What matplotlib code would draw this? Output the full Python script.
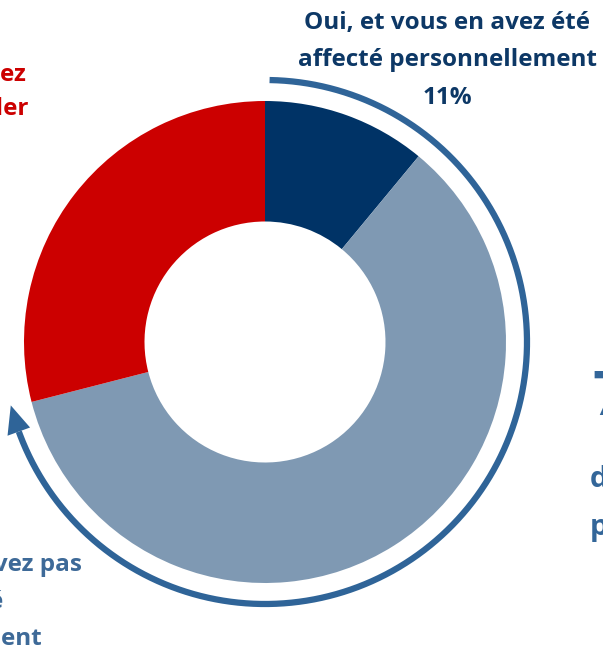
import numpy as np
import matplotlib
matplotlib.use("Agg")
import matplotlib.pyplot as plt
from matplotlib.patches import Polygon

plt.rcParams['font.family'] = ['Open Sans', 'DejaVu Sans']

# data
labels = ["Oui, et vous en avez été affecté personnellement",
          "Non, vous n'en avez pas été affecté personnellement",
          "Non, mais vous en avez entendu souvent parler"]
values = [11, 60, 29]
colors = ["#003366", "#7F99B3", "#CC0000"]

top_lines = ["Oui, et vous en avez été", "affecté personnellement", "11%"]
bottom_lines = ["Non, vous n'en avez pas", "été affecté", "personnellement", "60%"]
red_lines = ["Non, mais vous en avez", "entendu souvent parler", "29%"]
right_big = "71%"
right_lines = ["des Français", "pensent que"]

W, H = 603, 663
fig = plt.figure(figsize=(W / 100, H / 100), dpi=100)
ax = fig.add_axes([0, 0, 1, 1])

cx, cy = 265, H - 342
R = 241
ax.pie(values, colors=colors, startangle=90, counterclock=False,
       radius=R, center=(cx, cy),
       wedgeprops=dict(width=R * 0.5, linewidth=0))

# arrow arc around the donut
ra = 262
th = np.radians(np.linspace(89, -160, 300))
ax.plot(cx + ra * np.cos(th), cy + ra * np.sin(th), color="#2F6498",
        lw=4.5, solid_capstyle='butt')
tb = np.radians(-160)
tt = np.radians(-166)
tip = (cx + ra * np.cos(tt), cy + ra * np.sin(tt))
nrm = np.array([np.cos(tb), np.sin(tb)])
base = np.array([cx, cy]) + ra * nrm
head = Polygon([tip, base + 12 * nrm, base - 12 * nrm], closed=True,
               color="#2F6498", lw=0)
ax.add_patch(head)

# labels
fs = 17.5
for i, t in enumerate(top_lines):
    ax.text(447, H - (23 + 37.5 * i), t, ha='center', va='center',
            fontsize=fs, fontweight='bold', color="#0D3866")
for i, t in enumerate(bottom_lines):
    ax.text(-62, H - (565 + 37 * i), t, ha='center', va='center',
            fontsize=fs, fontweight='bold', color="#3E6A98")
for i, t in enumerate(red_lines):
    ax.text(-115, H - (75 + 34 * i), t, ha='center', va='center',
            fontsize=fs, fontweight='bold', color="#CC0000")
ax.text(592, H - 400, right_big, ha='left', va='center',
        fontsize=44, fontweight='bold', color="#336699")
for i, t in enumerate(right_lines):
    ax.text(590, H - (480 + 48 * i), t, ha='left', va='center',
            fontsize=21, fontweight='bold', color="#336699")

ax.set_xlim(0, W)
ax.set_ylim(0, H)
ax.set_aspect('auto')
ax.axis('off')

fig.savefig("out.png", dpi=100)
